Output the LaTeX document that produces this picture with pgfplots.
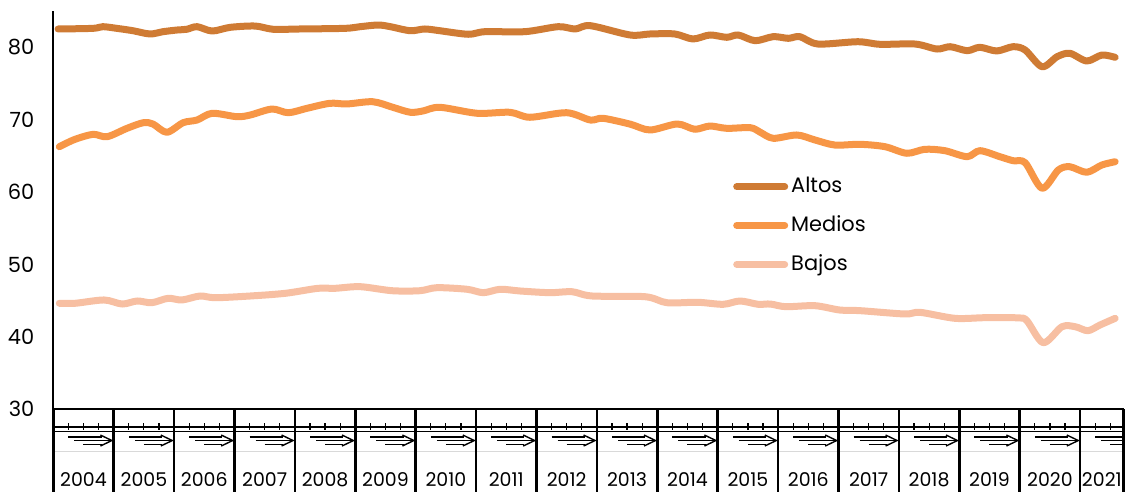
\documentclass[border=0pt]{standalone}
\usepackage{pgfplots}
\pgfplotsset{compat=1.18}
\usepackage{fontspec}
\setmainfont{Poppins}
\definecolor{altos}{HTML}{CF7B34}
\definecolor{medios}{HTML}{F79646}
\definecolor{bajos}{HTML}{F7BFA2}
\begin{document}
\begin{tikzpicture}
\useasboundingbox (-26.65bp,-41.5bp) rectangle (537.35bp,204.5bp);
\begin{axis}[
  x=30.2bp, y=3.615bp,
  xmin=2004, xmax=2021.72, ymin=30, ymax=85,
  axis x line=bottom, axis y line=left,
  axis line style={-},
  x axis line style={line width=1.4bp},
  y axis line style={line width=1bp},
  xtick=\empty,
  ytick={30,40,50,60,70,80},
  major tick length=0pt,
  /pgf/number format/assume math mode=true,
  yticklabel style={font=\fontsize{10.5}{12}\selectfont, xshift=-6bp},
  clip=false,
  legend style={at={(axis cs:2015.25,55.36)}, anchor=west, draw=none, fill=none,
    inner sep=0pt, row sep=7bp, font=\fontsize{10.5}{12}\selectfont,
    nodes={inner sep=1.5bp}},
  legend cell align=left,
  legend image code/.code={\draw[#1] (0bp,0bp) -- (24bp,0bp);},
  every axis plot/.append style={line width=3.5bp, line cap=round, line join=round, smooth, tension=0.5, mark=none},
]
\addplot[altos] coordinates {
(2004.08,82.56)(2004.66,82.65)(2004.82,82.88)(2005.05,82.65)(2005.32,82.32)(2005.60,81.87)(2005.82,82.19)(2006.05,82.42)(2006.21,82.52)(2006.38,82.88)(2006.63,82.28)(2006.93,82.79)(2007.34,82.97)(2007.64,82.52)(2008.08,82.56)(2008.83,82.65)(2009.08,82.88)(2009.38,83.11)(2009.58,82.88)(2009.91,82.32)(2010.15,82.56)(2010.40,82.32)(2010.87,81.83)(2011.15,82.19)(2011.81,82.19)(2012.36,82.88)(2012.64,82.56)(2012.89,83.02)(2013.55,81.73)(2013.88,81.87)(2014.29,81.87)(2014.59,81.18)(2014.87,81.73)(2015.15,81.41)(2015.34,81.73)(2015.62,80.94)(2015.92,81.50)(2016.17,81.27)(2016.36,81.50)(2016.66,80.48)(2017.32,80.80)(2017.69,80.44)(2018.27,80.48)(2018.63,79.79)(2018.85,80.11)(2019.13,79.56)(2019.34,80.03)(2019.62,79.52)(2019.89,80.11)(2020.09,79.65)(2020.37,77.34)(2020.62,78.73)(2020.83,79.20)(2021.11,78.13)(2021.36,78.96)(2021.58,78.64)
};
\addlegendentry{Altos}
\addplot[medios] coordinates {
(2004.10,66.28)(2004.36,67.30)(2004.66,67.99)(2004.89,67.66)(2005.22,68.82)(2005.49,69.60)(2005.65,69.42)(2005.88,68.27)(2006.15,69.60)(2006.38,69.97)(2006.63,70.90)(2007.04,70.43)(2007.26,70.66)(2007.62,71.49)(2007.89,70.98)(2008.20,71.59)(2008.58,72.28)(2008.86,72.19)(2009.29,72.50)(2009.62,71.73)(2009.91,71.04)(2010.12,71.22)(2010.40,71.73)(2011.02,70.90)(2011.56,71.04)(2011.89,70.35)(2012.50,70.98)(2012.89,69.97)(2013.10,70.21)(2013.55,69.40)(2013.88,68.59)(2014.33,69.42)(2014.62,68.69)(2014.87,69.14)(2015.15,68.82)(2015.54,68.91)(2015.70,68.30)(2015.92,67.44)(2016.31,67.90)(2016.61,67.21)(2016.94,66.51)(2017.36,66.61)(2017.77,66.28)(2018.13,65.37)(2018.43,65.92)(2018.76,65.73)(2019.13,64.90)(2019.34,65.73)(2019.67,64.90)(2019.89,64.34)(2020.09,64.07)(2020.37,60.53)(2020.64,63.06)(2020.83,63.51)(2021.11,62.74)(2021.36,63.75)(2021.58,64.20)
};
\addlegendentry{Medios}
\addplot[bajos] coordinates {
(2004.10,44.62)(2004.36,44.62)(2004.84,45.08)(2005.14,44.52)(2005.39,44.94)(2005.63,44.70)(2005.90,45.31)(2006.13,45.08)(2006.43,45.63)(2006.68,45.39)(2007.26,45.63)(2007.84,46.00)(2008.38,46.69)(2008.66,46.69)(2009.08,46.92)(2009.61,46.36)(2010.07,46.36)(2010.35,46.78)(2010.85,46.56)(2011.12,46.09)(2011.40,46.56)(2011.73,46.32)(2012.22,46.09)(2012.59,46.22)(2012.92,45.63)(2013.80,45.53)(2014.16,44.70)(2014.67,44.76)(2015.09,44.48)(2015.37,44.94)(2015.67,44.48)(2015.87,44.52)(2016.13,44.15)(2016.61,44.29)(2017.02,43.69)(2017.36,43.60)(2018.10,43.14)(2018.35,43.37)(2018.93,42.54)(2019.43,42.63)(2019.98,42.60)(2020.12,42.20)(2020.39,39.17)(2020.70,41.38)(2020.92,41.38)(2021.13,40.83)(2021.33,41.62)(2021.58,42.54)
};
\addlegendentry{Bajos}
% category axis structure below the plot
\draw[line width=0.75bp] (axis cs:2004,27.51) -- (axis cs:2021.72,27.51);
\draw[line width=0.75bp] (axis cs:2004,26.89) -- (axis cs:2021.72,26.89);
\draw[line width=0.6bp, black!15] (axis cs:2004,24.09) -- (axis cs:2021.72,24.09);
\pgfplotsinvokeforeach{2004,...,2020}{
  \draw[line width=0.6bp] (axis cs:{#1+0.25},28.06) -- (axis cs:{#1+0.25},27.03);
  \draw[line width=0.6bp] (axis cs:{#1+0.5},28.06) -- (axis cs:{#1+0.5},27.03);
  \draw[line width=0.6bp] (axis cs:{#1+0.75},28.06) -- (axis cs:{#1+0.75},27.03);
  \draw[line width=0.7bp] (axis cs:{#1+0.25},26.13) -- (axis cs:{#1+0.80},26.13);
  \draw[line width=0.7bp] (axis cs:{#1+0.35},25.64) -- (axis cs:{#1+0.97},25.64);
  \draw[line width=0.7bp] (axis cs:{#1+0.5},25.09) -- (axis cs:{#1+0.80},25.09);
  \draw[line width=0.7bp] (axis cs:{#1+0.78},26.40) -- (axis cs:{#1+0.97},25.64) -- (axis cs:{#1+0.78},24.88);
  \node[font=\fontsize{9.5}{11}\selectfont] at (axis cs:{#1+0.5},20.18) {#1};
}
\draw[line width=0.6bp] (axis cs:2021.25,28.06) -- (axis cs:2021.25,27.03);
\draw[line width=0.6bp] (axis cs:2021.5,28.06) -- (axis cs:2021.5,27.03);
\draw[line width=0.7bp] (axis cs:2021.25,26.13) -- (axis cs:2021.72,26.13);
\draw[line width=0.7bp] (axis cs:2021.35,25.64) -- (axis cs:2021.72,25.64);
\draw[line width=0.7bp] (axis cs:2021.5,25.09) -- (axis cs:2021.72,25.09);
\node[font=\fontsize{9.5}{11}\selectfont] at (axis cs:2021.36,20.18) {2021};
\pgfplotsinvokeforeach{2004,...,2021}{
  \draw[line width=1.25bp] (axis cs:#1,30) -- (axis cs:#1,18.52);
}
\draw[line width=1.25bp] (axis cs:2021.72,30) -- (axis cs:2021.72,18.52);
\end{axis}
\end{tikzpicture}
\end{document}
